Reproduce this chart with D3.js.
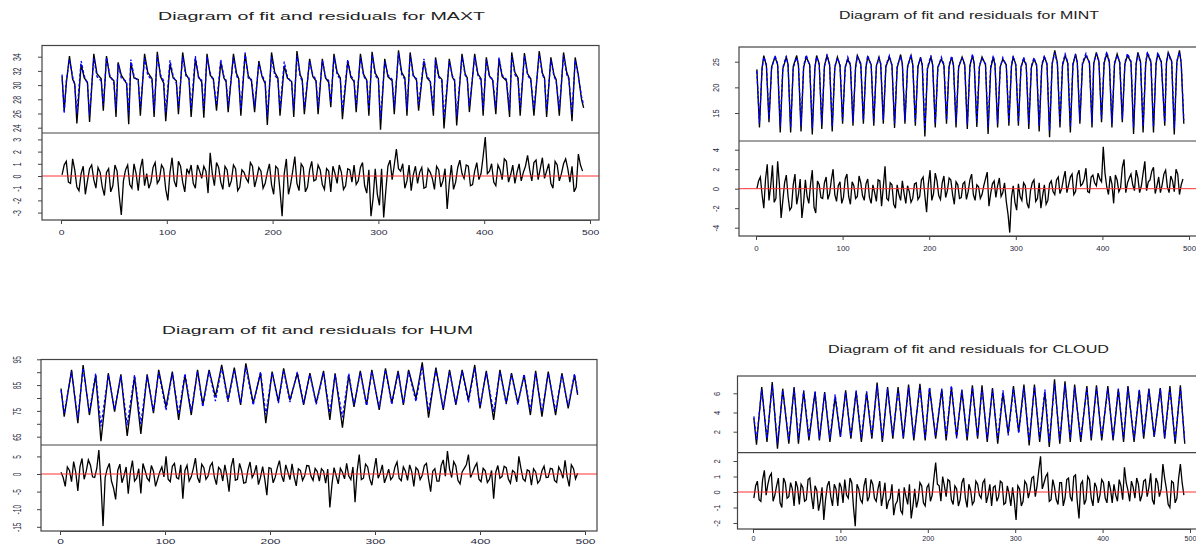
<!DOCTYPE html>
<html>
<head>
<meta charset="utf-8">
<script src="https://cdn.jsdelivr.net/npm/d3@7/dist/d3.min.js"></script>
<style>
  body { margin: 0; background: #fff; }
  svg { display: block; font-family: "Liberation Sans", Arial, sans-serif; }
</style>
</head>
<body>
<div id="chart"></div>
<script>
const width = 1196,
    height = 545;

// x軸刻度 (觀測值序號)
const xTicks = [0, 100, 200, 300, 400, 500];

// ---------- MAXT ----------
const maxtTicks = [24, 26, 28, 30, 32, 34];
const maxtResTicks = [-3, -2, -1, 0, 1, 2, 3];
const maxtIdx = [
    1, 3, 5, 8, 11, 13,
    15, 19, 22, 25,  27, 31, 34, 38,  40, 43, 46, 50,  52, 54, 57, 62,
    64, 66, 69, 73,  75, 79, 82, 86,  88, 91, 94, 97,  99, 103, 106, 109,
    111, 115, 118, 121,  123, 127, 130, 133,  135, 138, 141, 144,  147, 151, 154, 156,
    158, 163, 166, 168,  170, 174, 177, 180,  183, 187, 190, 193,  195, 199, 202, 205,
    207, 211, 214, 218,  220, 223, 226, 228,  230, 235, 238, 241,  243, 247, 250, 253,
    255, 258, 261, 264,  266, 271, 274, 277,  279, 283, 286, 289,  291, 294, 297, 300,
    302, 306, 309, 313,  315, 319, 322, 325,  327, 330, 333, 336,  338, 343, 346, 349,
    352, 354, 357, 360,  362, 367, 370, 372,  374, 379, 382, 384,  386, 391, 394, 397,
    399, 402, 405, 408,  411, 414, 417, 421,  424, 426, 429, 432,  434, 438, 441, 444,
    447, 452, 455, 457,  459, 463, 466, 468,  471, 475, 478, 480,  483, 486, 489, 492, 494
];
const maxtObs = [
    31.2, 26.4, 30.2, 34.1, 30.8, 30.2,
    24.6, 32.9, 31.0, 30.4,  24.8, 34.4, 31.6, 30.9,  26.4, 34.1, 31.2, 30.6,  25.5, 33.2, 31.4, 30.2,
    24.5, 33.2, 31.0, 30.8,  25.7, 34.4, 31.8, 30.9,  25.5, 34.7, 31.2, 30.3,  24.9, 33.0, 31.0, 30.6,
    25.9, 34.6, 31.6, 30.8,  25.5, 33.7, 31.2, 30.4,  25.4, 34.4, 31.4, 30.9,  26.4, 33.2, 31.0, 30.5,
    26.2, 34.4, 31.6, 30.9,  25.7, 34.4, 31.3, 30.6,  26.2, 33.4, 31.2, 30.2,  24.4, 34.6, 31.8, 31.0,
    25.7, 32.7, 31.0, 30.5,  25.5, 34.8, 31.5, 30.8,  25.9, 33.7, 31.2, 30.6,  25.9, 33.7, 31.0, 30.4,
    26.9, 34.4, 31.8, 31.0,  25.2, 33.4, 31.1, 30.5,  26.2, 34.4, 31.5, 30.7,  25.7, 34.7, 31.7, 30.9,
    23.7, 33.7, 31.2, 30.6,  25.9, 34.9, 31.8, 31.0,  25.7, 34.6, 31.4, 30.7,  26.4, 33.4, 31.0, 30.5,
    25.7, 33.9, 31.3, 30.8,  23.9, 33.7, 31.1, 30.6,  24.3, 34.4, 31.6, 31.0,  26.2, 34.4, 31.6, 30.9,
    25.7, 33.9, 31.3, 30.7,  25.9, 33.7, 31.2, 30.6,  25.5, 34.6, 31.8, 31.0,  25.7, 34.5, 31.6, 30.9,
    25.7, 34.8, 31.7, 31.0,  25.5, 33.9, 31.4, 30.8,  25.7, 34.6, 31.8, 31.0,  24.9, 33.9, 31.4, 28.0, 26.8
];
const maxtFit = [
    31.5, 26.0, 30.6, 33.6, 31.2, 30.0,
    26.0, 33.4, 31.3, 30.2,  25.8, 33.8, 31.2, 30.6,  27.2, 33.9, 31.5, 30.3,  26.6, 33.0, 31.0, 30.5,
    25.9, 33.6, 31.3, 30.5,  26.8, 33.8, 31.4, 30.7,  26.4, 34.2, 31.5, 30.6,  26.1, 33.5, 31.3, 30.3,
    26.8, 34.0, 31.3, 31.0,  26.6, 34.1, 31.0, 30.7,  26.5, 34.0, 31.7, 30.6,  27.2, 33.6, 31.2, 30.7,
    27.0, 33.9, 31.3, 30.6,  26.6, 34.6, 31.0, 30.8,  27.0, 33.1, 31.4, 30.5,  25.6, 34.0, 31.4, 30.8,
    26.6, 33.3, 31.2, 30.3,  26.5, 34.2, 31.2, 30.6,  26.7, 33.4, 31.4, 30.8,  26.8, 33.5, 31.2, 30.6,
    27.5, 34.0, 31.5, 30.8,  26.3, 33.6, 31.3, 30.7,  27.0, 33.9, 31.3, 30.5,  26.6, 34.3, 31.4, 30.7,
    25.2, 33.3, 31.4, 30.8,  26.8, 34.5, 31.5, 30.8,  26.6, 34.2, 31.2, 30.9,  27.1, 33.7, 31.2, 30.7,
    26.6, 33.6, 31.1, 30.6,  25.3, 33.4, 31.3, 30.8,  25.6, 34.0, 31.4, 30.8,  27.0, 34.0, 31.4, 30.7,
    26.6, 33.6, 31.1, 30.9,  26.8, 33.9, 31.4, 30.8,  26.5, 34.1, 31.5, 30.8,  26.6, 34.1, 31.4, 30.7,
    26.6, 34.3, 31.5, 30.8,  26.4, 33.6, 31.2, 30.6,  26.6, 34.2, 31.5, 30.8,  26.0, 33.5, 31.2, 28.4, 27.2
];
// 殘差：maxtRes 為序號 1, 5, 9, ... 493；maxtRes2 為序號 3, 7, 11, ... 491
const maxtRes = [
    0.1, 1.2, -0.6, 0.5, -1.2, 0.8, -0.4, 0.9, -1.0, 0.3,
    -1.6, 0.6, -0.8, 0.4, -3.2, 0.5, -0.7, 1.0, -1.2, 1.4,
    0.2, -0.5, 1.1, -0.3, 0.6, -2.0, 1.5, -0.9, 0.8, -1.3,
    0.2, -0.6, 0.9, -0.2, 0.4, 1.9, -0.8, 0.7, -1.1, 0.5,
    -0.4, 0.6, -0.9, 0.3, -0.5, 0.8, -0.2, 0.4, -0.6, 1.0,
    -1.5, 0.6, -3.3, 1.4, -0.7, 1.6, -1.2, 0.7, -0.9, 1.2,
    -0.3, 0.5, -1.1, 0.4, 0.8, -0.6, 0.3, -0.8, 0.5, 0.9,
    -0.4, 1.1, -1.4, -3.3, 0.6, -2.4, -3.4, 0.8, -0.3, 2.2,
    0.4, -1.0, 0.9, 0.1, -0.6, 0.7, -0.9, 0.3, -1.1, 0.5,
    -0.4, -2.7, 0.9, -0.5, 1.3, -0.2, 0.8, -0.7, 1.1, 0.2,
    3.2, 0.4, -0.5, 0.9, -0.3, 1.2, 0.1, -0.6, 1.0, 0.3,
    1.7, -0.4, 1.3, 0.6, -0.2, 1.0, -1.0, 0.9, 0.2, 1.4,
    -0.5, -1.3, 1.8, 0.4
];
const maxtRes2 = [
    0.9, -0.5, 1.4, -0.9, 0.2, -1.5, 0.6, -0.3, 0.7, -0.9,
    0.3, -1.3, 0.9, -1.6, -0.4, 0.9, -1.0, 0.2, 0.6, -0.8,
    -1.0, 0.7, -0.6, 0.9, -1.1, 0.3, -0.4, 1.2, -0.5, 0.6,
    0.9, -1.0, 0.4, 0.8, -1.4, 0.2, 1.1, -0.5, 0.8, -0.9,
    0.9, -1.2, 0.5, -0.2, 1.1, -0.9, 0.7, -1.0, 0.3, -0.7,
    0.8, -1.2, 0.2, -1.5, 0.4, -0.6, 1.0, -1.3, 0.5, -0.4,
    0.9, -0.7, 0.6, -1.3, 0.2, 0.9, -1.1, 0.6, -0.5, -0.7,
    0.7, -0.8, 0.5, -1.8, -1.5, 0.6, -1.2, 1.3, 0.9, 0.6,
    1.0, -0.4, -1.2, 0.8, 0.3, -1.0, 0.6, -0.2, 0.8, -0.9,
    0.6, -0.6, -1.1, 0.7, 0.2, 0.9, -0.8, 0.4, -0.3, 1.6,
    0.2, 1.0, -0.8, 0.5, 1.4, -0.5, 0.9, 0.3, -0.4, 0.8,
    0.5, 1.1, -0.3, 1.5, 0.4, -0.6, 1.2, -0.4, 1.0, 0.6,
    0.8, -0.9, 0.9
];

// ---------- MINT ----------
const mintTicks = [15, 20, 25];
const mintResTicks = [-4, -2, 0, 2, 4];
const mintIdx = [
    1, 4, 7, 9, 12,
    15, 18, 22, 25,  28, 31, 35, 37,  40, 43, 47, 49,  52, 55, 58, 62,
    65, 68, 70, 73,  76, 79, 82, 85,  88, 91, 94, 97,  100, 103, 106, 109,
    112, 115, 117, 121,  124, 127, 129, 133,  136, 139, 142, 144,  147, 150, 154, 157,
    160, 163, 167, 169,  172, 175, 179, 181,  184, 187, 190, 192,  195, 198, 202, 204,
    207, 210, 214, 217,  220, 223, 226, 228,  231, 234, 238, 241,  244, 247, 250, 252,
    255, 258, 261, 265,  268, 271, 274, 276,  279, 282, 285, 289,  292, 295, 297, 300,
    303, 306, 309, 312,  315, 318, 321, 324,  327, 330, 333, 336,  339, 342, 345, 348,
    351, 354, 357, 360,  363, 366, 369, 371,  374, 377, 381, 385,  388, 390, 393, 396,
    399, 402, 405, 408,  411, 414, 417, 420,  423, 426, 429, 433,  436, 439, 441, 444,
    447, 450, 452, 456,  459, 462, 464, 468,  472, 474, 476, 480,  483, 486, 489, 491, 494
];
const mintObs = [
    23.5, 12.2, 23.8, 26.2, 24.2,
    13.2, 24.0, 25.9, 24.4,  11.2, 23.6, 25.9, 24.5,  11.2, 24.1, 26.2, 24.3,  11.4, 23.9, 25.9, 24.4,
    10.8, 23.7, 26.2, 24.6,  11.9, 24.2, 26.2, 24.5,  11.4, 23.8, 25.9, 24.2,  12.9, 24.0, 25.5, 24.3,
    12.5, 24.1, 26.2, 24.6,  12.9, 23.9, 25.9, 24.4,  12.5, 24.2, 25.9, 24.5,  12.9, 24.0, 25.9, 24.4,
    12.1, 23.8, 26.4, 24.6,  12.9, 24.1, 26.2, 24.5,  12.5, 24.0, 25.9, 24.3,  10.4, 23.6, 25.9, 24.4,
    12.2, 24.0, 25.5, 24.3,  12.9, 24.1, 25.9, 24.4,  12.2, 23.9, 25.9, 24.5,  11.9, 24.2, 26.2, 24.6,
    12.3, 24.0, 25.9, 24.4,  10.9, 23.7, 25.9, 24.3,  12.2, 24.0, 25.5, 24.4,  12.5, 24.1, 25.9, 24.5,
    12.5, 24.0, 25.5, 24.3,  11.9, 23.9, 25.5, 24.4,  11.4, 24.2, 25.9, 24.6,  10.3, 24.5, 27.2, 24.8,
    12.2, 24.3, 26.2, 24.7,  11.2, 24.4, 26.5, 24.8,  12.9, 24.5, 26.2, 24.9,  12.2, 24.6, 26.8, 25.0,
    13.2, 24.7, 26.6, 24.9,  12.2, 24.5, 26.5, 24.8,  13.2, 24.6, 26.2, 24.9,  10.9, 24.5, 26.8, 25.0,
    11.2, 24.6, 26.6, 24.9,  11.2, 24.7, 26.5, 25.0,  12.5, 24.8, 26.8, 25.1,  10.8, 24.9, 27.2, 24.6, 12.9
];
const mintFit = [
    23.2, 13.0, 23.5, 25.9, 24.5,
    13.9, 23.6, 26.2, 24.6,  12.4, 23.9, 26.1, 24.3,  12.1, 23.8, 25.8, 24.6,  12.5, 24.2, 26.3, 24.2,
    12.0, 24.0, 25.9, 24.4,  12.8, 23.9, 26.4, 24.3,  12.4, 24.1, 25.7, 24.5,  13.5, 23.7, 25.9, 24.5,
    13.3, 23.8, 25.9, 24.4,  13.6, 24.2, 26.2, 24.3,  13.2, 23.9, 25.7, 24.7,  13.7, 24.3, 26.2, 24.2,
    13.0, 24.1, 26.0, 24.4,  13.5, 23.8, 26.4, 24.3,  13.3, 24.2, 25.6, 24.6,  11.8, 23.9, 26.2, 24.2,
    13.0, 23.7, 25.9, 24.5,  13.6, 24.4, 26.1, 24.2,  13.1, 24.2, 25.7, 24.3,  12.8, 23.9, 26.5, 24.4,
    13.2, 24.3, 25.6, 24.6,  12.2, 24.0, 26.2, 24.5,  13.0, 23.8, 25.8, 24.2,  13.3, 24.4, 26.1, 24.3,
    13.2, 23.7, 25.9, 24.5,  12.9, 24.2, 25.8, 24.2,  12.5, 24.5, 26.2, 24.4,  11.6, 24.8, 26.7, 24.6,
    13.1, 24.6, 26.5, 24.9,  12.3, 24.7, 26.2, 25.0,  13.6, 24.8, 26.6, 24.7,  13.1, 24.9, 26.4, 25.2,
    13.9, 25.0, 26.9, 25.1,  13.0, 24.8, 26.2, 25.0,  13.8, 24.9, 26.6, 25.1,  12.2, 24.8, 26.4, 24.8,
    12.4, 24.9, 26.9, 25.1,  12.3, 25.0, 26.8, 24.8,  13.2, 25.1, 26.5, 24.9,  12.0, 25.2, 26.8, 24.9, 13.6
];
const mintRes = [
    0.0, 1.2, -2.0, 2.5, 0.3, -1.4, 2.8, -3.0, 0.6, -0.8,
    -1.9, 1.5, -0.6, -3.0, 0.9, -1.5, 1.9, -2.5, 0.4, -1.0,
    1.2, -0.5, 2.0, -1.3, 0.7, -0.9, 1.5, -1.6, 0.3, -0.8,
    0.6, -1.2, 1.0, -1.5, -0.4, 0.9, -1.8, 2.3, -1.2, 0.4,
    -2.0, -0.6, 0.8, -1.5, -0.3, -1.0, 0.6, -0.8, 1.2, -2.4,
    1.9, -0.5, 0.8, -1.1, 1.3, -0.2, 0.9, -1.6, 0.4, -0.9,
    0.7, -0.3, 1.5, -1.2, 0.2, -0.6, 1.0, -1.8, 0.5, -0.9,
    1.1, -0.4, -1.3, -4.5, 0.3, -2.2, -0.8, 0.6, -1.5, -0.2,
    0.9, -1.0, -2.0, 0.4, -1.2, 0.8, -0.6, 1.2, 0.0, 1.8,
    0.4, 1.5, -0.3, 1.9, 0.5, 2.1, -0.4, 1.4, 0.3, 1.0,
    4.3, 0.2, 1.3, -1.5, 0.9, 0.1, 3.0, 0.6, 1.5, -0.2,
    1.1, 0.3, 2.8, 0.7, 1.8, -0.5, 1.2, 0.4, 1.9, -0.4,
    0.8, 2.0, -0.6, 1.0
];
const mintRes2 = [
    0.8, -0.6, 1.0, -1.2, 2.4, -1.0, 0.5, -1.2, 1.4, -2.2,
    0.4, -1.6, 1.0, -1.4, -0.8, 0.5, -1.9, 0.8, -0.9, 0.6,
    -1.1, 0.9, -0.6, 0.3, -1.5, 1.0, -0.8, 0.7, -1.0, 1.3,
    -0.7, 0.5, -0.9, 0.4, -1.3, 0.8, 0.2, -1.0, 0.6, -1.6,
    0.4, -1.2, -0.5, 0.3, -1.4, 0.5, -1.1, 0.9, -0.7, 0.5,
    -1.2, 1.6, -0.7, 0.6, -0.9, 1.1, -0.6, 0.7, -1.0, 0.5,
    -1.1, 0.9, -0.6, 0.4, -1.0, 0.3, 1.7, -0.5, 0.8, 0.3,
    -0.8, 0.6, -2.6, -0.9, -1.4, 0.5, -1.2, 0.3, -2.0, 0.6,
    -1.3, 0.6, -0.7, -1.6, 0.5, -0.3, 0.9, -0.5, 1.0, -0.4,
    1.2, -0.6, 1.4, 0.3, 1.0, -0.3, 1.2, 0.6, 1.6, 0.7,
    1.6, -0.6, 0.5, 1.4, -0.3, 2.2, -0.4, 1.1, 0.4, 1.9,
    -0.4, 1.6, -0.2, 0.9, 2.2, 0.3, -0.4, 1.5, 0.2, 1.3,
    -0.3, 1.5, 0.4
];

// ---------- HUM ----------
const humTicks = [65, 70, 75, 80, 85, 90, 95];
const humTickLabels = [65, 75, 85, 95];
const humResTicks = [-15, -10, -5, 0, 5];
const humIdx = [
    1, 4, 11, 17, 22, 28, 34, 39, 46, 52, 58, 64, 71, 77, 83, 89, 94, 101, 107, 113,
    119, 125, 131, 136, 142, 148, 154, 160, 166, 172, 177, 184, 191, 196, 202, 208, 213, 219, 226, 232,
    238, 244, 251, 257, 262, 269, 275, 280, 286, 292, 297, 304, 310, 316, 322, 327, 332, 339, 345, 351,
    358, 365, 371, 377, 383, 389, 395, 400, 406, 413, 419, 425, 430, 436, 442, 448, 453, 459, 465, 472,
    478, 484, 490, 493
];
const humObs = [
    83.7, 72.8, 90.9, 70.2, 92.8, 73.4, 88.9, 63.3, 89.6, 74.7, 89.2, 65.3, 88.3, 66.1, 89.2, 74.1, 90.9, 76.6, 90.2, 71.5,
    88.9, 73.4, 90.9, 77.3, 90.9, 80.5, 92.8, 79.2, 91.8, 77.3, 93.4, 78.0, 89.6, 70.2, 90.2, 78.6, 91.5, 79.2, 89.6, 77.3,
    89.6, 78.0, 90.5, 71.5, 89.6, 68.5, 88.9, 76.6, 90.5, 77.3, 90.9, 75.4, 91.5, 78.0, 90.5, 77.3, 90.9, 79.9, 93.8, 72.4,
    91.8, 75.4, 90.9, 77.3, 90.9, 79.2, 92.8, 76.0, 90.5, 71.5, 90.9, 78.0, 89.6, 78.0, 88.9, 73.4, 90.5, 72.8, 90.2, 73.4,
    89.6, 76.0, 88.9, 81.2
];
const humFit = [
    83.0, 74.0, 90.2, 72.0, 91.6, 74.5, 89.5, 69.0, 89.0, 75.5, 88.6, 69.5, 88.9, 70.0, 88.7, 75.0, 90.0, 75.2, 89.6, 73.8,
    89.4, 74.8, 90.3, 76.5, 90.5, 78.8, 91.9, 78.5, 91.0, 77.9, 92.0, 77.2, 90.2, 73.5, 89.8, 78.0, 90.8, 78.4, 90.1, 77.8,
    89.1, 77.5, 89.9, 74.2, 89.0, 72.5, 89.5, 77.2, 89.8, 77.0, 90.3, 76.3, 90.9, 77.4, 90.0, 77.8, 90.4, 78.6, 92.3, 75.0,
    91.0, 76.2, 90.2, 77.8, 90.5, 78.3, 91.6, 76.8, 89.9, 74.6, 90.1, 77.6, 89.2, 77.4, 89.3, 75.1, 89.8, 74.6, 89.6, 75.0,
    89.0, 76.9, 89.4, 81.8
];
const humRes = [
    0.5, -3.5, 1.0, 3.5, -4.8, 4.4, 0.8, 2.5, -1.0, 6.8,
    -14.8, 1.5, -2.0, -7.2, 2.8, -0.5, -5.6, 3.8, -1.2, -5.5,
    1.0, -2.0, 0.8, -1.5, 2.0, 5.0, -2.2, 3.0, -1.4, -7.0,
    2.5, -0.8, 4.5, -2.5, 1.8, -0.6, 3.2, -3.0, 1.2, 2.6,
    -5.0, 4.5, -1.5, 0.9, -2.4, 3.4, 0.2, -3.0, 2.1, -6.0,
    1.6, -0.9, 3.8, -2.2, 0.6, 2.9, -3.4, 1.0, -0.5, 2.3,
    -1.8, 0.7, 1.5, -2.6, -9.5, 1.8, -2.8, 0.5, 3.0, -1.6,
    -8.0, 5.5, -1.2, 2.0, -3.2, 4.5, 0.3, -2.5, 1.4, -0.8,
    3.4, -1.9, 0.8, 2.6, -3.5, 1.1, -0.4, 3.0, -5.0, 1.5,
    -2.0, 4.0, 6.5, -1.0, 2.3, -2.8, 1.6, 5.5, 0.4, 3.1,
    -2.2, 0.9, -1.5, -7.0, 2.4, -0.7, 1.8, -2.6, 0.5, 5.0,
    -1.4, 1.2, -3.2, 0.6, -1.8, 2.2, -0.9, 1.4, -2.4, 0.8,
    3.9, -3.5, 1.6, 0.2
];
const humRes2 = [
    -1.0, 2.0, -2.2, 0.5, 2.0, -1.5, 4.0, -0.8, 1.5, -2.5,
    -1.0, 3.0, -4.0, 1.0, -2.5, 2.0, 0.5, -2.0, 1.5, 3.0,
    -1.2, 2.4, -3.5, 0.6, -0.8, -1.5, 2.2, -1.0, 2.6, 1.0,
    -2.0, 1.6, -1.0, 2.8, -1.5, 2.2, -0.8, 1.9, -2.0, -0.5,
    2.0, -1.8, 3.0, -2.6, 1.2, -1.0, 2.5, -0.9, -1.4, 1.8,
    -2.5, 1.8, -0.4, 2.6, -1.6, -0.8, 1.5, -1.8, 2.4, -0.6,
    1.6, -2.0, 0.8, 1.4, -3.0, -0.5, 1.6, -1.4, -0.6, 2.0,
    0.8, -1.6, 2.8, -1.4, 1.0, -1.2, 2.6, -0.8, -1.6, 2.0,
    -1.2, 2.0, -1.8, 0.6, 1.8, -1.6, 2.4, -1.4, 0.8, -2.0,
    2.4, -0.6, 1.4, 3.5, -1.8, 0.6, 2.6, -1.0, 2.0, -1.5,
    1.6, -2.4, 1.0, 0.5, -1.2, 2.2, -1.4, 1.0, -2.2, 1.6,
    -2.0, 0.8, 1.5, -2.6, 0.9, -1.0, 1.6, -1.8, 2.0, -1.2,
    -0.8, 2.6, -1.4
];

// ---------- CLOUD ----------
const cloudTicks = [2, 4, 6];
const cloudResTicks = [-2, -1, 0, 1, 2];
const cloudIdx = [
    1, 4, 10, 16, 22, 28, 34, 41, 47, 52, 58, 64, 71, 76, 82, 88, 94, 100, 106, 112,
    118, 124, 130, 136, 142, 148, 154, 160, 166, 172, 178, 184, 191, 197, 202, 209, 216, 221, 227, 233,
    239, 245, 251, 257, 262, 268, 274, 280, 286, 292, 298, 304, 310, 316, 322, 328, 334, 339, 345, 351,
    357, 363, 368, 375, 382, 387, 393, 399, 406, 412, 418, 424, 429, 436, 442, 447, 453, 459, 466, 471,
    477, 483, 489, 494
];
const cloudObs = [
    3.4, 0.65, 6.66, 0.93, 7.18, 0.23, 6.48, 0.75, 6.66, 0.75, 6.21, 1.1, 6.14, 1.1, 6.14, 0.93, 5.62, 1.45, 6.31, 1.28,
    6.21, 0.93, 6.07, 1.28, 7.11, 0.93, 6.66, 1.28, 6.66, 1.28, 6.9, 1.1, 7.0, 1.1, 6.55, 1.28, 6.41, 1.1, 6.66, 1.45,
    6.31, 1.1, 6.83, 1.28, 6.83, 0.93, 6.55, 0.75, 6.07, 1.8, 6.76, 1.97, 6.9, 0.58, 6.9, 0.93, 6.14, 0.41, 7.46, 0.75,
    7.25, 0.93, 6.9, 0.93, 6.76, 1.1, 6.83, 1.1, 6.76, 1.1, 6.41, 0.93, 6.76, 0.93, 6.31, 1.28, 6.48, 1.45, 6.55, 1.28,
    6.76, 0.75, 6.83, 0.75
];
const cloudFit = [
    3.6, 1.1, 6.4, 1.3, 6.8, 0.8, 6.3, 1.1, 6.5, 1.2, 6.3, 1.4, 6.2, 1.3, 6.0, 1.3, 5.9, 1.5, 6.1, 1.5,
    6.3, 1.3, 6.2, 1.5, 6.8, 1.2, 6.5, 1.6, 6.4, 1.4, 6.6, 1.4, 6.7, 1.3, 6.6, 1.5, 6.5, 1.4, 6.8, 1.3,
    6.4, 1.4, 6.6, 1.5, 6.5, 1.3, 6.4, 1.2, 6.3, 1.6, 6.5, 1.8, 6.6, 1.0, 6.7, 1.3, 6.4, 0.9, 7.0, 1.1,
    6.9, 1.3, 6.6, 1.3, 6.5, 1.4, 6.6, 1.4, 6.5, 1.3, 6.5, 1.3, 6.6, 1.2, 6.4, 1.6, 6.4, 1.5, 6.5, 1.4,
    6.5, 1.1, 6.6, 1.0
];
const cloudRes = [
    -0.4, 0.7, -0.6, 1.4, 0.5, 1.2, -0.2, 0.9, -1.0, 0.6,
    -0.3, 0.2, 0.7, -0.8, 0.3, -0.5, 0.9, -1.1, 0.1, -0.6,
    -1.8, 0.4, -0.3, 0.5, -0.9, 0.3, 0.8, -0.4, 0.6, -2.2,
    0.2, -0.7, 0.9, -0.3, 0.5, -0.6, 0.7, -0.2, -1.1, -0.4,
    -1.5, -0.6, -1.2, 0.3, -0.8, -1.7, 0.2, -0.5, 0.4, -0.9,
    0.5, -0.2, 1.9, 0.4, 1.0, -0.3, 0.7, -0.8, 0.2, -0.5,
    0.9, -1.0, 0.1, -0.6, 0.5, -0.4, 0.8, -0.2, -0.9, 0.4,
    -0.3, 0.6, -0.7, -0.1, 0.3, -1.8, 0.2, -0.6, 0.5, 0.1,
    1.0, 0.4, 2.3, 0.6, 1.2, -0.5, 0.3, -0.8, 0.6, -0.4,
    0.9, -0.6, 1.1, -1.7, 0.7, -0.5, 0.8, -0.9, 0.3, -0.2,
    0.6, -0.7, 0.2, 0.5, -0.6, 0.4, 1.6, 0.1, 0.7, -0.4,
    0.5, -0.2, 0.8, 0.3, -0.5, 0.9, -0.3, 1.8, 0.2, -1.0,
    0.6, -0.4, 1.8, -0.2
];
const cloudRes2 = [
    0.4, -0.5, 0.8, -0.2, 1.0, -0.6, 0.4, -0.7, 0.9, -0.4,
    0.6, -0.9, 0.3, 0.5, -0.6, 0.8, -0.3, 0.4, -1.2, 0.3,
    -0.5, 0.7, -0.9, 0.2, 0.6, -0.7, -0.2, 0.9, -1.0, 0.5,
    -0.5, 0.4, -0.6, 0.8, -0.4, 0.2, -0.9, 0.6, -0.6, 0.5,
    -0.8, 0.2, -1.4, -0.3, 0.5, -0.9, -1.0, 0.6, -0.7, 0.3,
    -0.6, 0.9, 0.5, -0.6, 0.4, 0.8, -0.5, 0.4, -0.9, 0.6,
    -0.4, 0.5, -0.8, 0.7, -0.2, 0.6, -0.7, 0.5, 0.3, -0.6,
    0.7, -0.8, 0.4, -0.9, -0.6, 0.4, -0.9, 0.7, -0.4, 0.9,
    -0.3, 1.4, 0.2, 1.0, -0.6, 0.8, -0.5, 0.6, -0.9, 0.8,
    -0.3, 1.0, -0.6, 0.5, -0.8, 1.0, -0.4, 0.6, -0.7, 0.8,
    -0.4, 0.7, -0.7, -0.2, 0.8, -0.5, 0.6, -0.6, 0.3, 0.9,
    -0.6, 0.7, -0.3, 1.2, -0.8, 0.6, 0.2, 0.9, -0.8, 0.7,
    -0.7, 0.9, 0.6
];

// 每張小圖的版面設定
const panels = [
    {
        name: 'MAXT', idx: maxtIdx, obs: maxtObs, fit: maxtFit, res: maxtRes, res2: maxtRes2,
        ticks: maxtTicks, labels: maxtTicks, resTicks: maxtResTicks,
        box: {l: 42, r: 599, t: 45.5, m: 133, b: 220},
        xr: [61, 590], topDom: [24, 34], topRange: [127.7, 56.7], resDom: [-3, 3], resRange: [212.6, 139.4],
        title: {x: 321.5, y: 19.5, len: 327, size: 11.5},
        xFont: 7, xSx: 1.48, xPad: 6.3, yFont: 7, ySx: 1.46, yOff: 21
    },
    {
        name: 'MINT', idx: mintIdx, obs: mintObs, fit: mintFit, res: mintRes, res2: mintRes2,
        ticks: mintTicks, labels: mintTicks, resTicks: mintResTicks,
        box: {l: 739, r: 1200, t: 47, m: 141, b: 236},
        xr: [756, 1189], topDom: [15, 25], topRange: [113, 61.7], resDom: [-4, 4], resRange: [227.7, 149.7],
        title: {x: 969, y: 18.5, len: 260, size: 11.5},
        xFont: 7.5, xSx: 1.05, xPad: 5.4, yFont: 7.5, ySx: 1.25, yOff: 19.7
    },
    {
        name: 'HUM', idx: humIdx, obs: humObs, fit: humFit, res: humRes, res2: humRes2,
        ticks: humTicks, labels: humTickLabels, resTicks: humResTicks,
        box: {l: 41, r: 597, t: 359.5, m: 445, b: 531},
        xr: [60, 585], topDom: [65, 95], topRange: [436.7, 359.3], resDom: [-15, 5], resRange: [526.8, 456.4],
        title: {x: 317.5, y: 333.5, len: 311, size: 11.5},
        xFont: 7.5, xSx: 1.6, xPad: 3.2, yFont: 6.5, ySx: 1.6, yOff: 20
    },
    {
        name: 'CLOUD', idx: cloudIdx, obs: cloudObs, fit: cloudFit, res: cloudRes, res2: cloudRes2,
        ticks: cloudTicks, labels: cloudTicks, resTicks: cloudResTicks,
        box: {l: 737.5, r: 1200, t: 376, m: 452.7, b: 529},
        xr: [753, 1190], topDom: [2, 6], topRange: [431.7, 393.3], resDom: [-2, 2], resRange: [523, 461],
        title: {x: 968.5, y: 353, len: 281, size: 10.7},
        xFont: 6.8, xSx: 1.05, xPad: 3.4, yFont: 7.5, ySx: 1.2, yOff: 17.3
    }
];

const svg = d3.select('#chart')
    .append('svg')
    .attr('width', width)
    .attr('height', height);

svg.append('rect')
    .attr('width', width)
    .attr('height', height)
    .attr('fill', '#fff');

const labelColor = '#1f2840';
const boxColor = '#444';

panels.forEach(function(p) {
    const g = svg.append('g');

    const x = d3.scaleLinear().domain([0, 500]).range(p.xr);
    const yTop = d3.scaleLinear().domain(p.topDom).range(p.topRange);
    const yRes = d3.scaleLinear().domain(p.resDom).range(p.resRange);

    // 觀測值 (黑) 與配適值 (藍色虛線)
    const obsPts = p.idx.map(function(d, i) { return [d, p.obs[i]]; });
    const fitPts = p.idx.map(function(d, i) { return [d, p.fit[i]]; });
    const topLine = d3.line()
        .x(function(d) { return x(d[0]); })
        .y(function(d) { return yTop(d[1]); });

    g.append('path')
        .datum(obsPts)
        .attr('d', topLine)
        .attr('fill', 'none')
        .attr('stroke', '#000')
        .attr('stroke-width', 1.35);

    g.append('path')
        .datum(fitPts)
        .attr('d', topLine)
        .attr('fill', 'none')
        .attr('stroke', '#0000ff')
        .attr('stroke-width', 1.3)
        .attr('stroke-dasharray', '3,2');

    // 殘差：兩組交錯的序號合併後依序畫線
    const resPts = p.res.map(function(v, i) { return [1 + i * 4, v]; })
        .concat(p.res2.map(function(v, i) { return [3 + i * 4, v]; }))
        .sort(function(a, b) { return a[0] - b[0]; });
    const resLine = d3.line()
        .x(function(d) { return x(d[0]); })
        .y(function(d) { return yRes(d[1]); });

    g.append('path')
        .datum(resPts)
        .attr('d', resLine)
        .attr('fill', 'none')
        .attr('stroke', '#000')
        .attr('stroke-width', 1.3);

    // 零線
    g.append('line')
        .attr('x1', p.box.l)
        .attr('x2', p.box.r)
        .attr('y1', yRes(0))
        .attr('y2', yRes(0))
        .attr('stroke', '#ff3030')
        .attr('stroke-width', 1);

    // 外框
    g.append('rect')
        .attr('x', p.box.l)
        .attr('y', p.box.t)
        .attr('width', p.box.r - p.box.l)
        .attr('height', p.box.b - p.box.t)
        .attr('fill', 'none')
        .attr('stroke', boxColor)
        .attr('stroke-width', 1.2);

    g.append('line')
        .attr('x1', p.box.l)
        .attr('x2', p.box.r)
        .attr('y1', p.box.m)
        .attr('y2', p.box.m)
        .attr('stroke', boxColor)
        .attr('stroke-width', 1.2);

    // x 軸
    const xAxis = g.append('g')
        .attr('transform', 'translate(0,' + p.box.b + ')')
        .call(d3.axisBottom(x).tickValues(xTicks).tickSize(4).tickSizeOuter(0).tickPadding(p.xPad));
    xAxis.select('.domain').attr('stroke', boxColor);
    xAxis.selectAll('line').attr('stroke', boxColor);
    xAxis.selectAll('text')
        .attr('fill', labelColor)
        .style('font-size', p.xFont + 'px')
        .attr('transform', 'scale(' + p.xSx + ',1)');

    // y 軸 (上圖與殘差圖)
    function drawY(scale, ticks, labels) {
        const ax = g.append('g')
            .attr('transform', 'translate(' + p.box.l + ',0)')
            .call(d3.axisLeft(scale).tickValues(ticks).tickSize(4)
                .tickFormat(function(d) { return labels.indexOf(d) >= 0 ? d : ''; }));
        ax.select('.domain').remove();
        ax.selectAll('line').attr('stroke', boxColor);
        ax.selectAll('text')
            .attr('x', null)
            .attr('dy', null)
            .attr('text-anchor', 'middle')
            .attr('fill', labelColor)
            .style('font-size', p.yFont + 'px')
            .attr('transform', 'translate(' + (-p.yOff) + ',0) scale(' + p.ySx + ',1) rotate(-90)');
    }
    drawY(yTop, p.ticks, p.labels);
    drawY(yRes, p.resTicks, p.resTicks);

    // 標題
    g.append('text')
        .attr('x', p.title.x)
        .attr('y', p.title.y)
        .attr('text-anchor', 'middle')
        .attr('textLength', p.title.len)
        .attr('lengthAdjust', 'spacingAndGlyphs')
        .attr('fill', '#222')
        .style('font-size', p.title.size + 'px')
        .text('Diagram of fit and residuals for ' + p.name);
});
</script>
</body>
</html>
